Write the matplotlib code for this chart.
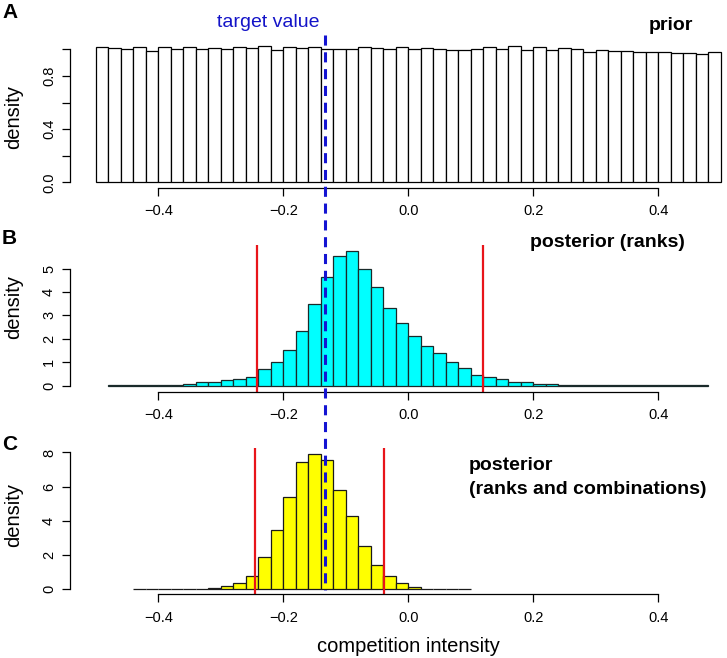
import matplotlib
matplotlib.use('Agg')
import matplotlib.pyplot as plt
from matplotlib import transforms
from matplotlib.lines import Line2D

plt.rcParams['font.family'] = ['Liberation Sans', 'DejaVu Sans']

# ---- data ----
bin_width = 0.02

prior_left = [-0.50 + i * bin_width for i in range(50)]
prior_density = [1.020, 1.013, 1.003, 1.020, 0.990, 1.015, 1.003, 1.015, 1.003, 1.008,
                 1.005, 1.020, 1.010, 1.023, 0.993, 1.020, 1.013, 1.015, 1.000, 1.003,
                 1.000, 1.020, 1.010, 1.000, 1.020, 1.000, 1.008, 1.003, 0.998, 0.998,
                 1.005, 1.015, 1.003, 1.023, 0.993, 1.020, 0.995, 1.013, 1.000, 0.983,
                 0.995, 0.990, 0.985, 0.978, 0.978, 0.978, 0.975, 0.970, 0.965, 0.980]

ranks_left = [-0.48 + i * bin_width for i in range(48)]
ranks_density = [0.004, 0.006, 0.01, 0.02, 0.03, 0.04, 0.08, 0.14, 0.17, 0.23,
                 0.28, 0.37, 0.72, 1.02, 1.51, 2.33, 3.49, 4.63, 5.53, 5.74,
                 4.96, 4.20, 3.30, 2.68, 2.10, 1.68, 1.38, 0.99, 0.74, 0.45,
                 0.35, 0.27, 0.16, 0.14, 0.08, 0.06, 0.04, 0.03, 0.02, 0.015,
                 0.01, 0.008, 0.006, 0.005, 0.004, 0.003, 0.002, 0.002]

combo_left = [-0.44 + i * bin_width for i in range(27)]
combo_density = [0.003, 0.004, 0.005, 0.008, 0.015, 0.04, 0.08, 0.20, 0.36, 0.80,
                 1.89, 3.45, 5.40, 7.47, 7.93, 7.54, 5.79, 4.27, 2.51, 1.42,
                 0.75, 0.36, 0.12, 0.04, 0.015, 0.008, 0.004]

target_value = -0.133
ci_ranks = [-0.242, 0.119]
ci_combo = [-0.245, -0.0386]

xticks = [-0.4, -0.2, 0.0, 0.2, 0.4]
xticklabels = ['\u22120.4', '\u22120.2', '0.0', '0.2', '0.4']

# ---- layout (pixels) ----
W, H = 727, 658
fig = plt.figure(figsize=(W / 100, H / 100), dpi=100)

X0, XSCALE = 408.3, 625.0  # pixel of x=0, pixels per unit


def panel(top, axis_y, zero_y, per_unit):
    left = 70
    ax = fig.add_axes([left / W, 1 - axis_y / H, 1 - left / W, (axis_y - top) / H])
    ax.set_xlim((left - X0) / XSCALE, (W - X0) / XSCALE)
    ax.set_ylim(-(axis_y - zero_y) / per_unit, (zero_y - top) / per_unit)
    ax.patch.set_visible(False)
    for s in ['top', 'right']:
        ax.spines[s].set_visible(False)
    ax.spines['bottom'].set_bounds(-0.4, 0.4)
    ax.spines['left'].set_linewidth(0.9)
    ax.spines['bottom'].set_linewidth(0.9)
    ax.set_xticks(xticks)
    ax.set_xticklabels(xticklabels)
    ax.tick_params(direction='out', length=6, width=0.9, labelsize=10.5, pad=6)
    ax.tick_params(axis='y', pad=4)
    return ax


axA = panel(44, 187.7, 182.3, 133.0)
axB = panel(222.3, 391.7, 385.5, 23.4)
axC = panel(435.7, 594.3, 589.3, 17.1)

axA.bar(prior_left, prior_density, width=bin_width, align='edge',
        color='white', edgecolor='black', linewidth=0.9, clip_on=False)
axB.bar(ranks_left, ranks_density, width=bin_width, align='edge',
        color='#00ffff', edgecolor='#1a2a2a', linewidth=0.9)
axC.bar(combo_left, combo_density, width=bin_width, align='edge',
        color='#ffff00', edgecolor='#1a1a1a', linewidth=0.9)

axA.set_yticks([0, 0.2, 0.4, 0.6, 0.8, 1.0])
axA.set_yticklabels(['0.0', '', '0.4', '', '0.8', ''])
axA.spines['left'].set_bounds(0, 1.0)
axB.set_yticks([0, 1, 2, 3, 4, 5])
axB.spines['left'].set_bounds(0, 5)
axC.set_yticks([0, 2, 4, 6, 8])
axC.spines['left'].set_bounds(0, 8)
for ax in (axA, axB, axC):
    for lab in ax.get_yticklabels():
        lab.set_rotation(90)
        lab.set_va('center')

# credible intervals
axB.vlines(ci_ranks, axB.get_ylim()[0], 6.0, color='#e8141a', lw=1.6)
axC.vlines(ci_combo, axC.get_ylim()[0], 8.25, color='#e8141a', lw=1.6)

# target value line across all panels
tr = transforms.blended_transform_factory(axA.transData, fig.transFigure)
fig.add_artist(Line2D([target_value, target_value], [1 - 35 / H, 1 - 590 / H],
                      transform=tr, color='#1414d2', lw=2.2,
                      linestyle=(0, (3.3, 2.2))))


def ftext(x, y, s, **kw):
    fig.text(x / W, 1 - y / H, s, **kw)


ftext(268, 22.5, 'target value', color='#1414c8', fontsize=14, ha='center', va='center')
ftext(670.7, 25, 'prior', fontsize=14, fontweight='bold', ha='center', va='center')
ftext(607, 243, 'posterior (ranks)', fontsize=14, fontweight='bold', ha='center', va='center')
ftext(469, 466, 'posterior', fontsize=14, fontweight='bold', ha='left', va='center')
ftext(469, 490, '(ranks and combinations)', fontsize=14, fontweight='bold', ha='left', va='center')

for lab, y in [('A', 12), ('B', 238), ('C', 445)]:
    ftext(2, y, lab, fontsize=15, fontweight='bold', ha='left', va='center')

for y in [117, 307, 515]:
    ftext(13.3, y, 'density', fontsize=14.5, rotation=90, ha='center', va='center')

ftext(408.3, 647, 'competition intensity', fontsize=14.5, ha='center', va='center')

fig.savefig('out.png', dpi=100)
